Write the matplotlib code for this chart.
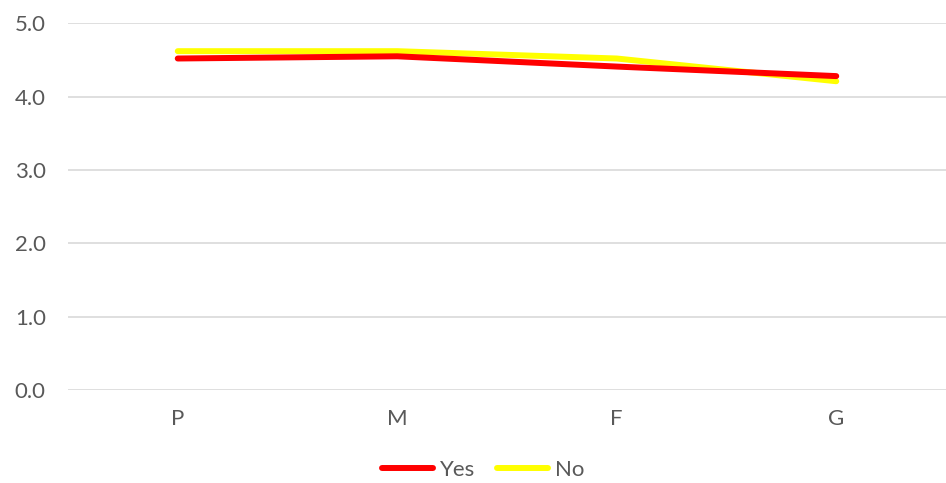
import matplotlib.pyplot as plt

# Data
categories = ['P', 'M', 'F', 'G']
yes_values = [4.52, 4.55, 4.41, 4.28]
no_values = [4.62, 4.62, 4.52, 4.21]
y_ticks = [0, 1, 2, 3, 4, 5]

plt.rcParams['font.family'] = ['Lato', 'DejaVu Sans']
text_color = '#595959'

fig = plt.figure(figsize=(9.46, 4.83), dpi=100)
ax = fig.add_axes([68 / 946, 1 - 390 / 483, 878 / 946, (390 - 23.3) / 483])

x = range(len(categories))
ax.plot(x, yes_values, color='#ff0000', linewidth=4.3, solid_capstyle='round', label='Yes', zorder=3)
ax.plot(x, no_values, color='#ffff00', linewidth=4.3, solid_capstyle='round', label='No', zorder=2)

ax.set_xlim(-0.5, len(categories) - 0.5)
ax.set_ylim(0, 5)
ax.set_yticks(y_ticks)
ax.set_yticklabels([f'{v:.1f}' for v in y_ticks])
ax.set_xticks(list(x))
ax.set_xticklabels(categories)

ax.grid(True, axis='y', color='#d9d9d9', linewidth=1.2)
ax.set_axisbelow(True)
for side in ['top', 'right', 'left', 'bottom']:
    ax.spines[side].set_visible(False)
ax.tick_params(axis='both', length=0, labelsize=16, colors=text_color)
ax.tick_params(axis='y', pad=16)
ax.tick_params(axis='x', pad=14)

leg = fig.legend(loc='center', bbox_to_anchor=(0.5 + 10 / 946, 1 - 470 / 483), ncol=2, frameon=False,
                 fontsize=16, handlelength=2.3, handletextpad=0.3, columnspacing=1.0)
for t in leg.get_texts():
    t.set_color(text_color)

fig.savefig('out.png', dpi=100)
